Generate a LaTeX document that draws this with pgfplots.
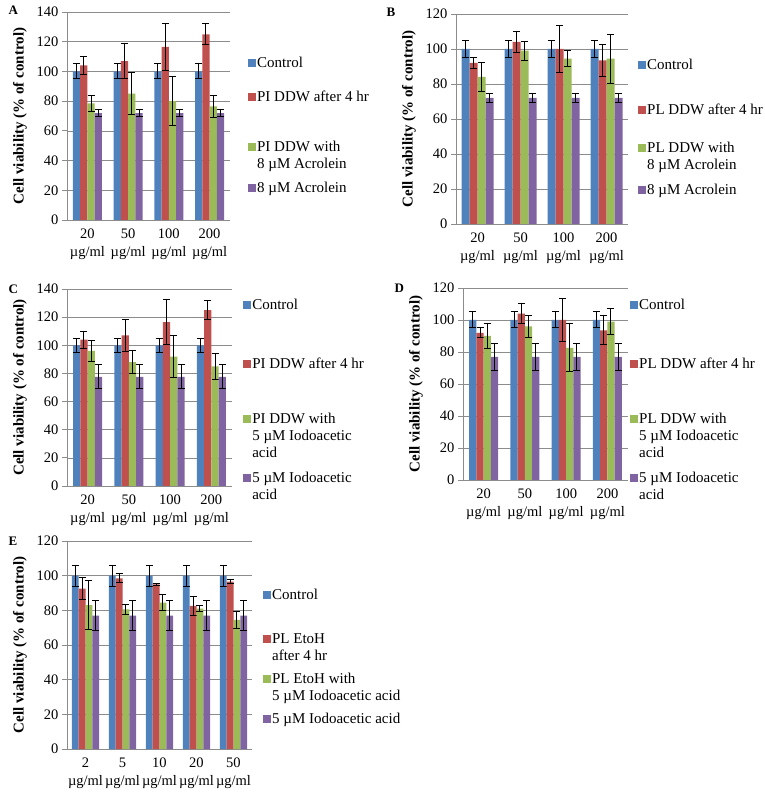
\documentclass[border=0pt]{standalone}
\usepackage{pgfplots}
\pgfplotsset{compat=1.18}
\usepackage{fontspec}
\setmainfont{Liberation Serif}

\definecolor{xblue}{HTML}{4F81BD}
\definecolor{xred}{HTML}{C0504D}
\definecolor{xgreen}{HTML}{9BBB59}
\definecolor{xpurple}{HTML}{8064A2}
\definecolor{axgray}{HTML}{8C8C8C}

\newcommand{\tickfont}{\fontsize{14.5}{18}\selectfont}
\newcommand{\legfont}{\fontsize{15}{17}\selectfont}
% legend entry with fixed height (12pt) and chosen depth
\newcommand{\lent}[2]{\rule[-#1pt]{0pt}{\dimexpr#1pt+12pt\relax}#2}
\newcommand{\two}[2]{\begin{tabular}[t]{@{}l@{}}#1\\#2\end{tabular}}
\newcommand{\three}[3]{\begin{tabular}[t]{@{}l@{}}#1\\#2\\#3\end{tabular}}

\pgfplotsset{
  panel/.style={
    scale only axis, ybar=0pt, enlargelimits=false,
    axis x line*=bottom, axis y line*=left,
    axis line style={draw=axgray, line width=0.8pt},
    ymajorgrids, grid style={draw=axgray, line width=0.6pt},
    ytick pos=left, tick align=outside, major tick length=5pt,
    ytick style={draw=axgray, line width=0.8pt},
    xtick style={draw=none},
    ymin=0,
    yticklabel style={font=\tickfont, /pgf/number format/assume math mode=true},
    xticklabel style={font=\tickfont, align=center},
    ylabel={Cell viability (\% of control)},
    every axis y label/.style={at={(axis description cs:0,0.5)}, xshift=-47pt,
      rotate=90, anchor=center, font=\bfseries\fontsize{15}{17}\selectfont},
    legend style={draw=none, fill=none, font=\legfont, anchor=north west,
      cells={anchor=base west}, row sep=0pt, inner sep=0pt,
      nodes={inner sep=1pt, text depth={}, text height={}}},
    legend image code/.code={\fill[##1, draw=none] (0pt,0pt) rectangle (8pt,8pt);},
  },
  eb/.style={draw=none, error bars/.cd, y dir=both, y explicit,
    error bar style={black, line width=1pt},
    error mark options={black, line width=1pt, mark size=3.5pt, rotate=90}},
}

\begin{document}
\begin{tikzpicture}
\useasboundingbox (0,0) rectangle (765pt,795pt);

% ---------- A ----------
\begin{axis}[panel, at={(67pt,575pt)}, anchor=south west,
  width=163pt, height=208pt, bar width=7.3pt,
  xmin=-0.5, xmax=3.5, ymax=140, ytick={0,20,...,140},
  xtick={0,1,2,3},
  xticklabels={20\\µg/ml, 50\\µg/ml, 100\\µg/ml, 200\\µg/ml},
  legend style={at={(axis description cs:1.11,0.798)}}]
\addplot[fill=xblue, eb] coordinates {(0,100) +- (0,5) (1,100) +- (0,5) (2,100) +- (0,5) (3,100) +- (0,5)};
\addplot[fill=xred, eb] coordinates {(0,104) +- (0,6) (1,107) +- (0,11.5) (2,116.5) +- (0,16) (3,125) +- (0,7)};
\addplot[fill=xgreen, eb] coordinates {(0,78.5) +- (0,5.5) (1,85) +- (0,14) (2,80) +- (0,16.5) (3,76.5) +- (0,7.5)};
\addplot[fill=xpurple, eb] coordinates {(0,72) +- (0,2.5) (1,72) +- (0,2.5) (2,72) +- (0,2.5) (3,72) +- (0,2.5)};
\addlegendentry{\lent{20}{Control}}
\addlegendentry{\lent{36}{PI DDW after 4 hr}}
\addlegendentry{\lent{27}{\two{PI DDW with}{8 µM Acrolein}}}
\addlegendentry{\lent{5}{8 µM Acrolein}}
\end{axis}

% ---------- B ----------
\begin{axis}[panel, at={(456pt,571pt)}, anchor=south west,
  width=172pt, height=210pt, bar width=8pt,
  xmin=-0.5, xmax=3.5, ymax=120, ytick={0,20,...,120},
  xtick={0,1,2,3},
  xticklabels={20\\µg/ml, 50\\µg/ml, 100\\µg/ml, 200\\µg/ml},
  legend style={at={(axis description cs:1.058,0.8)}}]
\addplot[fill=xblue, eb] coordinates {(0,100) +- (0,5) (1,100) +- (0,5) (2,100) +- (0,5) (3,100) +- (0,5)};
\addplot[fill=xred, eb] coordinates {(0,92) +- (0,3) (1,104) +- (0,6) (2,100) +- (0,13.5) (3,93.5) +- (0,9)};
\addplot[fill=xgreen, eb] coordinates {(0,84) +- (0,8.5) (1,99) +- (0,5.5) (2,94.5) +- (0,4.5) (3,94.5) +- (0,14)};
\addplot[fill=xpurple, eb] coordinates {(0,72) +- (0,2.5) (1,72) +- (0,2.5) (2,72) +- (0,2.5) (3,72) +- (0,2.5)};
\addlegendentry{\lent{31}{Control}}
\addlegendentry{\lent{24}{PL DDW after 4 hr}}
\addlegendentry{\lent{28}{\two{PL DDW with}{8 µM Acrolein}}}
\addlegendentry{\lent{5}{8 µM Acrolein}}
\end{axis}

% ---------- C ----------
\begin{axis}[panel, at={(67pt,309pt)}, anchor=south west,
  width=165pt, height=197pt, bar width=7.3pt,
  xmin=-0.5, xmax=3.5, ymax=140, ytick={0,20,...,140},
  xtick={0,1,2,3},
  xticklabels={20\\µg/ml, 50\\µg/ml, 100\\µg/ml, 200\\µg/ml},
  legend style={at={(axis description cs:1.067,0.9645)}}]
\addplot[fill=xblue, eb] coordinates {(0,100) +- (0,5) (1,100) +- (0,5) (2,100) +- (0,5) (3,100) +- (0,5)};
\addplot[fill=xred, eb] coordinates {(0,104) +- (0,6) (1,107) +- (0,11.5) (2,116.5) +- (0,16) (3,125) +- (0,7)};
\addplot[fill=xgreen, eb] coordinates {(0,96) +- (0,7.5) (1,88) +- (0,8) (2,92) +- (0,15) (3,85) +- (0,9)};
\addplot[fill=xpurple, eb] coordinates {(0,77.5) +- (0,8.5) (1,77.5) +- (0,8.5) (2,77.5) +- (0,8.5) (3,77.5) +- (0,8.5)};
\addlegendentry{\lent{45}{Control}}
\addlegendentry{\lent{41}{PI DDW after 4 hr}}
\addlegendentry{\lent{45}{\three{PI DDW with}{5 µM Iodoacetic}{acid}}}
\addlegendentry{\lent{5}{\two{5 µM Iodoacetic}{acid}}}
\end{axis}

% ---------- D ----------
\begin{axis}[panel, at={(463pt,315pt)}, anchor=south west,
  width=165pt, height=192pt, bar width=7.2pt,
  xmin=-0.5, xmax=3.5, ymax=120, ytick={0,20,...,120},
  xtick={0,1,2,3},
  xticklabels={20\\µg/ml, 50\\µg/ml, 100\\µg/ml, 200\\µg/ml},
  legend style={at={(axis description cs:1.012,0.958)}}]
\addplot[fill=xblue, eb] coordinates {(0,100) +- (0,5) (1,100) +- (0,5) (2,100) +- (0,5) (3,100) +- (0,5)};
\addplot[fill=xred, eb] coordinates {(0,92) +- (0,3) (1,104) +- (0,6) (2,100) +- (0,13.5) (3,93.5) +- (0,9)};
\addplot[fill=xgreen, eb] coordinates {(0,90) +- (0,8) (1,96) +- (0,7) (2,82.5) +- (0,15) (3,99) +- (0,8)};
\addplot[fill=xpurple, eb] coordinates {(0,77) +- (0,8.5) (1,77) +- (0,8.5) (2,77) +- (0,8.5) (3,77) +- (0,8.5)};
\addlegendentry{\lent{45}{Control}}
\addlegendentry{\lent{41}{PL DDW after 4 hr}}
\addlegendentry{\lent{45}{\three{PL DDW with}{5 µM Iodoacetic}{acid}}}
\addlegendentry{\lent{5}{\two{5 µM Iodoacetic}{acid}}}
\end{axis}

% ---------- E ----------
\begin{axis}[panel, at={(67pt,46pt)}, anchor=south west,
  width=185pt, height=208pt, bar width=6.8pt,
  xmin=-0.5, xmax=4.5, ymax=120, ytick={0,20,...,120},
  xtick={0,1,2,3,4},
  xticklabels={2\\µg/ml, 5\\µg/ml, 10\\µg/ml, 20\\µg/ml, 50\\µg/ml},
  legend style={at={(axis description cs:1.059,0.784)}}]
\addplot[fill=xblue, eb] coordinates {(0,100) +- (0,6) (1,100) +- (0,6) (2,100) +- (0,6) (3,100) +- (0,6) (4,100) +- (0,6)};
\addplot[fill=xred, eb] coordinates {(0,92.5) +- (0,6.5) (1,98.5) +- (0,2.5) (2,95) +- (0,0.5) (3,82.5) +- (0,5.5) (4,96.5) +- (0,1)};
\addplot[fill=xgreen, eb] coordinates {(0,83) +- (0,14) (1,80.5) +- (0,3) (2,84.5) +- (0,4.5) (3,81) +- (0,1.5) (4,74.5) +- (0,5)};
\addplot[fill=xpurple, eb] coordinates {(0,77) +- (0,8.5) (1,77) +- (0,8.5) (2,77) +- (0,8.5) (3,77) +- (0,8.5) (4,77) +- (0,8.5)};
\addlegendentry{\lent{30}{Control}}
\addlegendentry{\lent{26}{\two{PL EtoH}{after 4 hr}}}
\addlegendentry{\lent{26}{\two{PL EtoH with}{5 µM Iodoacetic acid}}}
\addlegendentry{\lent{5}{5 µM Iodoacetic acid}}
\end{axis}

\node[font=\bfseries\fontsize{13}{13}\selectfont, anchor=west] at (5pt,785pt) {A};
\node[font=\bfseries\fontsize{13}{13}\selectfont, anchor=west] at (383pt,783pt) {B};
\node[font=\bfseries\fontsize{13}{13}\selectfont, anchor=west] at (5pt,506pt) {C};
\node[font=\bfseries\fontsize{13}{13}\selectfont, anchor=west] at (391pt,507pt) {D};
\node[font=\bfseries\fontsize{13}{13}\selectfont, anchor=west] at (5pt,254pt) {E};
\end{tikzpicture}
\end{document}
